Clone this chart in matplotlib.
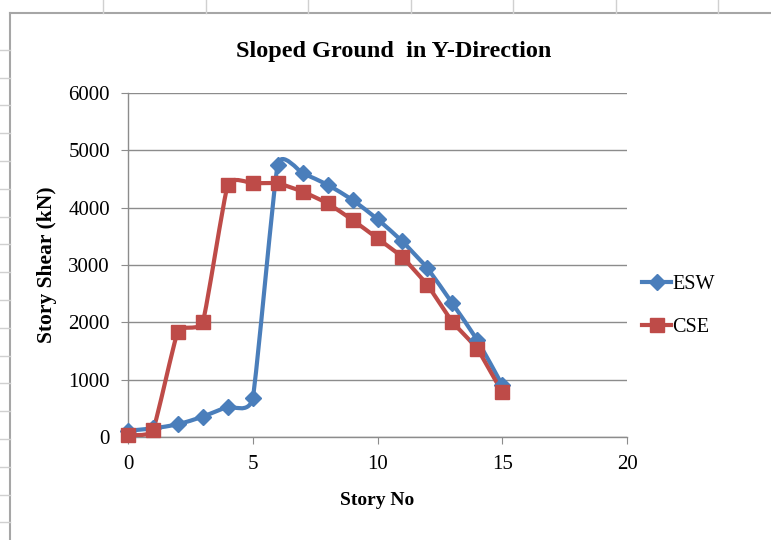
import numpy as np
import matplotlib
matplotlib.use("Agg")
from matplotlib import pyplot as plt
from matplotlib.path import Path
from matplotlib.patches import PathPatch
from matplotlib.lines import Line2D

story = [0, 1, 2, 3, 4, 5, 6, 7, 8, 9, 10, 11, 12, 13, 14, 15]
esw = [110, 150, 220, 355, 530, 680, 4750, 4600, 4400, 4135, 3800, 3410, 2945, 2330, 1690, 905]
cse = [40, 120, 1840, 2010, 4400, 4425, 4425, 4280, 4075, 3785, 3465, 3135, 2650, 2010, 1535, 780]

blue = "#4a7ebb"
red = "#be4b48"
grey = "#8c8c8c"


def smooth_path(xs, ys, t=1 / 14.0):
    # smoothed line like excel: cubic bezier through the points
    p = np.column_stack([xs, ys]).astype(float)
    n = len(p)
    verts = [p[0]]
    codes = [Path.MOVETO]
    for i in range(n - 1):
        p0 = p[i - 1] if i > 0 else p[i]
        p3 = p[i + 2] if i + 2 < n else p[i + 1]
        c1 = p[i] + (p[i + 1] - p0) * t
        c2 = p[i + 1] - (p3 - p[i]) * t
        verts += [c1, c2, p[i + 1]]
        codes += [Path.CURVE4] * 3
    return Path(verts, codes)


plt.rcParams['font.family'] = ['Liberation Serif', 'DejaVu Serif']

fig = plt.figure(figsize=(7.71, 5.4), dpi=100)
ax = fig.add_axes([128 / 771, 1 - 437 / 540, 499 / 771, 344 / 540])

for xs, ys, c, m, ms in [(story, esw, blue, 'D', 8), (story, cse, red, 's', 10.5)]:
    ax.add_patch(PathPatch(smooth_path(xs, ys), facecolor='none', edgecolor=c,
                           lw=3, capstyle='round', joinstyle='round', zorder=3))
    ax.plot(xs, ys, linestyle='none', marker=m, ms=ms, color=c, zorder=4, clip_on=False)

ax.set_xlim(0, 20)
ax.set_ylim(0, 6000)
ax.set_xticks([0, 5, 10, 15, 20])
ax.set_yticks(np.arange(0, 6001, 1000))
ax.yaxis.grid(True, color=grey, lw=1)
ax.set_axisbelow(True)
for s in ['top', 'right']:
    ax.spines[s].set_visible(False)
for s in ['left', 'bottom']:
    ax.spines[s].set_color(grey)
    ax.spines[s].set_linewidth(1)
ax.tick_params(axis='both', colors=grey, labelcolor='black', labelsize=15,
               length=5, direction='out')
ax.tick_params(axis='y', pad=8)
ax.tick_params(axis='x', pad=8)

ax.set_title("Sloped Ground  in Y-Direction", fontsize=17.5, fontweight='bold', pad=26,
             x=(394 - 128) / 499)
ax.set_xlabel("Story No", fontsize=14, fontweight='bold', labelpad=13)
ax.set_ylabel("Story Shear (kN)", fontsize=15.5, fontweight='bold', labelpad=8)

handles = [Line2D([], [], color=blue, lw=3, marker='D', ms=8),
           Line2D([], [], color=red, lw=3, marker='s', ms=10.5)]
fig.legend(handles, ["ESW", "CSE"], loc='center left', bbox_to_anchor=(624 / 771, 1 - 306 / 540),
           frameon=False, fontsize=14.5, handlelength=1.45, handletextpad=0.05, labelspacing=1.2)

# spreadsheet frame around the chart
fig.add_artist(Line2D([10 / 771, 10 / 771], [0, 1 - 13 / 540], color="#a6a6a6", lw=1.5,
                      transform=fig.transFigure))
fig.add_artist(Line2D([10 / 771, 1], [1 - 13 / 540, 1 - 13 / 540], color="#a6a6a6", lw=1.5,
                      transform=fig.transFigure))
for k in range(7):
    xp = (103 + 102.5 * k) / 771
    fig.add_artist(Line2D([xp, xp], [1 - 13 / 540, 1], color="#d0d0d0", lw=1,
                          transform=fig.transFigure))
for k in range(1, 19):
    yp = 1 - (22 + 27.8 * k) / 540
    fig.add_artist(Line2D([0, 10 / 771], [yp, yp], color="#d0d0d0", lw=1,
                          transform=fig.transFigure))

fig.savefig("out.png", dpi=100)
